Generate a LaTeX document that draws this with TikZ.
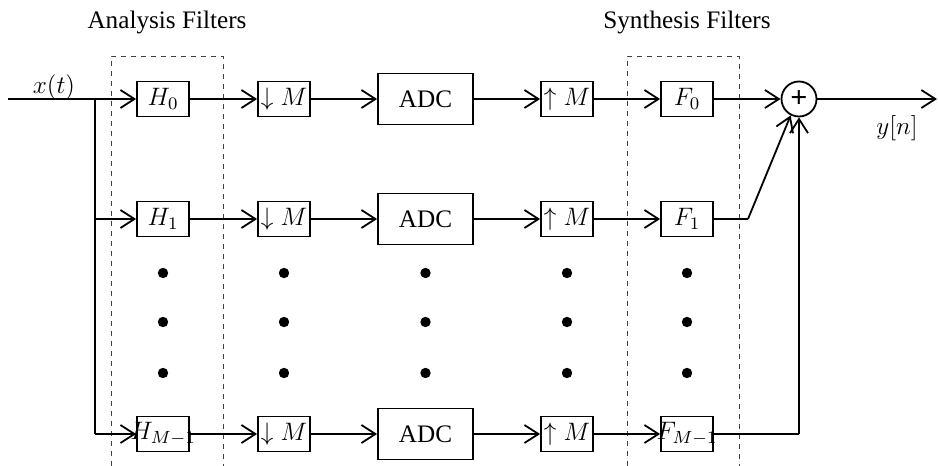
\RequirePackage{fix-cm}
\documentclass[tikz,border=0pt]{standalone}
\usepackage[no-math]{fontspec}
\setmainfont{Liberation Serif}
\usetikzlibrary{arrows.meta}
\begin{document}
\begin{tikzpicture}[x=0.5pt,y=-0.5pt,
  every node/.style={font=\fontsize{12.6}{15}\selectfont},
  sbox/.style={draw, line width=0.9pt, minimum width=26pt, minimum height=17.5pt, inner sep=0pt},
  abox/.style={draw, line width=0.9pt, minimum width=47.5pt, minimum height=25.5pt, inner sep=0pt},
  conn/.style={line width=0.9pt, -{Straight Barb[length=7pt,width=9pt,line width=0.9pt]}},
  wire/.style={line width=0.9pt},
  dot/.style={circle, fill, inner sep=0pt, minimum size=5.2pt},
  group/.style={line width=0.5pt, dash pattern=on 2.5pt off 2.5pt, black!75}]
\useasboundingbox (0,0) rectangle (938,466);

% groups
\draw[group] (111,466) -- (111,56) -- (223,56) -- (223,466);
\draw[group] (627,466) -- (627,56) -- (739,56) -- (739,466);
\node (an) at (167,22) {Analysis Filters};
\node (sy) at (687,22) {Synthesis Filters};

% row 0
\node[sbox] (h0) at (163,99) {$H_0$};
\node[sbox] (d0) at (284,99) {$\downarrow M$};
\node[abox] (a0) at (425.5,99) {ADC};
\node[sbox] (u0) at (567,99) {$\uparrow M$};
\node[sbox] (f0) at (687,99) {$F_0$};
% row 1
\node[sbox] (h1) at (163,219) {$H_1$};
\node[sbox] (d1) at (284,219) {$\downarrow M$};
\node[abox] (a1) at (425.5,219) {ADC};
\node[sbox] (u1) at (567,219) {$\uparrow M$};
\node[sbox] (f1) at (687,219) {$F_1$};
% row M-1
\node[sbox] (hm) at (163,434) {\makebox[0pt]{$H_{M-1}$}};
\node[sbox] (dm) at (284,434) {$\downarrow M$};
\node[abox] (am) at (425.5,434) {ADC};
\node[sbox] (um) at (567,434) {$\uparrow M$};
\node[sbox] (fm) at (687,434) {\makebox[0pt]{$F_{M-1}$}};

% sum
\node[draw, circle, line width=0.9pt, minimum size=17.5pt, inner sep=0pt,
      font=\fontsize{15}{15}\selectfont\bfseries] (sum) at (799,99) {+};

% dots
\foreach \x [count=\i] in {163,284,425.5,567,687}
  \foreach \y [count=\j] in {273,322,373}
    \node[dot] (dot\i\j) at (\x,\y) {};

% input
\coordinate (in) at (8,99);
\coordinate (br) at (95,99);
\coordinate (b1) at (95,219);
\coordinate (bm) at (95,434);
\node (xt) at (54,87) {$x(t)$};
\draw[wire] (in) -- (br);
\draw[wire] (br) -- (bm);
\draw[conn] (br) -- (h0);
\draw[conn] (b1) -- (h1);
\draw[conn] (bm) -- (hm);

% chains
\foreach \r in {0,1,m} {
  \draw[conn] (h\r) -- (d\r);
  \draw[conn] (d\r) -- (a\r);
  \draw[conn] (a\r) -- (u\r);
  \draw[conn] (u\r) -- (f\r);
}

% to sum
\draw[conn] (f0) -- (sum);
\coordinate (k1) at (748,219);
\draw[wire] (f1) -- (k1);
\draw[conn] (k1) -- (sum.-117);
\coordinate (km) at (799,434);
\draw[wire] (fm) -- (km);
\draw[conn] (km) -- (sum.south);

% output
\coordinate (out) at (937,99);
\draw[conn] (sum) -- (out);
\node (yn) at (897,128) {$y[n]$};
\end{tikzpicture}
\end{document}
